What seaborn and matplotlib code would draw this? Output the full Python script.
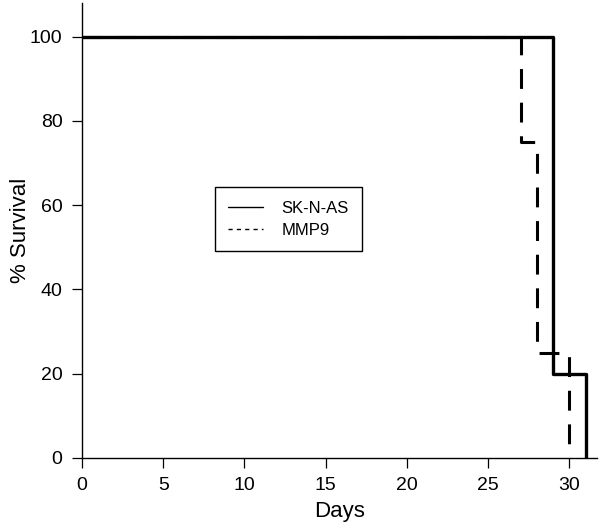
import pandas as pd
import matplotlib
matplotlib.use("Agg")
import matplotlib.pyplot as plt
import seaborn as sns
from matplotlib.lines import Line2D

# Kaplan-Meier step data
sknas_days = [0, 29, 31]
sknas_survival = [100, 20, 0]
mmp9_days = [0, 27, 28, 30]
mmp9_survival = [100, 75, 25, 0]

x_ticks = [0, 5, 10, 15, 20, 25, 30]
y_ticks = [0, 20, 40, 60, 80, 100]

sns.set_style("ticks")
plt.rcParams['font.family'] = ['Liberation Sans', 'DejaVu Sans']
plt.rcParams['text.color'] = 'black'
plt.rcParams['axes.labelcolor'] = 'black'
plt.rcParams['xtick.color'] = 'black'
plt.rcParams['ytick.color'] = 'black'

fig = plt.figure(figsize=(6, 5.28), dpi=100)
ax = fig.add_axes([82 / 600, 70 / 528, 515 / 600, 455 / 528])

mmp9 = pd.DataFrame({"Days": mmp9_days, "Survival": mmp9_survival})
sknas = pd.DataFrame({"Days": sknas_days, "Survival": sknas_survival})

sns.lineplot(data=mmp9, x="Days", y="Survival", ax=ax, color="black",
             linewidth=2.2, drawstyle="steps-post")
ax.lines[-1].set_dashes((6.5, 4.5))
sns.lineplot(data=sknas, x="Days", y="Survival", ax=ax, color="black",
             linewidth=2.4, drawstyle="steps-post")

ax.set_xlim(0, 31.7)
ax.set_ylim(0, 108)
ax.set_xticks(x_ticks)
ax.set_yticks(y_ticks)
ax.tick_params(axis="both", labelsize=14, length=7, width=0.9,
               direction="out")
ax.tick_params(axis="y", pad=7)
ax.tick_params(axis="x", pad=7)
for side in ["top", "right"]:
    ax.spines[side].set_visible(False)
for side in ["left", "bottom"]:
    ax.spines[side].set_color("black")
    ax.spines[side].set_linewidth(1.0)
ax.set_xlabel("Days", fontsize=16, labelpad=5)
ax.set_ylabel("% Survival", fontsize=16)
ax.yaxis.set_label_coords(-0.10, 0.5)

handles = [Line2D([], [], color="black", linewidth=1.0),
           Line2D([], [], color="black", linewidth=1.0, linestyle=(0, (3, 3)))]
leg = ax.legend(handles, ["SK-N-AS", "MMP9"], loc="upper left",
                bbox_to_anchor=(0.258, 0.595), fontsize=12, frameon=True,
                fancybox=False, framealpha=1, edgecolor="black",
                handlelength=2.1, handletextpad=1.1, borderpad=0.8,
                labelspacing=0.45, borderaxespad=0)
leg.get_frame().set_linewidth(1.0)

plt.savefig("out.png", dpi=100)
